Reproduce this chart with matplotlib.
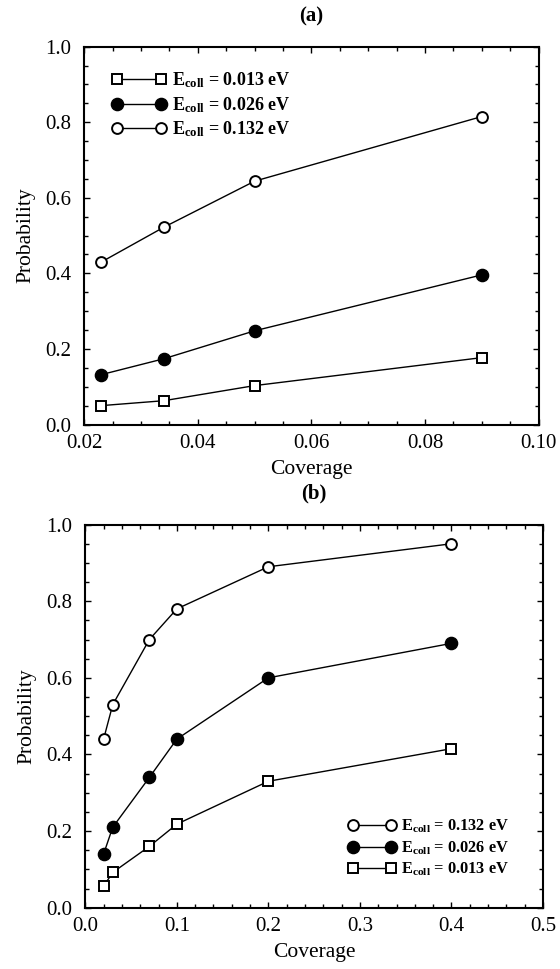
import matplotlib.pyplot as plt
from matplotlib.ticker import MultipleLocator, FormatStrFormatter

plt.rcParams['font.family'] = ['Liberation Serif', 'DejaVu Serif']
plt.rcParams['mathtext.fontset'] = 'custom'
plt.rcParams['mathtext.rm'] = 'Liberation Serif:bold'
plt.rcParams['mathtext.bf'] = 'Liberation Serif:bold'
plt.rcParams['mathtext.it'] = 'Liberation Serif:bold'

# panel (a)
cov_a = [0.023, 0.034, 0.05, 0.09]
p013_a = [0.050, 0.063, 0.103, 0.177]
p026_a = [0.132, 0.174, 0.248, 0.396]
p132_a = [0.430, 0.522, 0.644, 0.815]

# panel (b)
cov_b = [0.02, 0.03, 0.07, 0.1, 0.2, 0.4]
p013_b = [0.056, 0.092, 0.160, 0.218, 0.330, 0.415]
p026_b = [0.140, 0.210, 0.340, 0.440, 0.600, 0.690]
p132_b = [0.440, 0.530, 0.700, 0.780, 0.890, 0.950]

labels = [r'E$_{coll}$ = 0.013 eV', r'E$_{coll}$ = 0.026 eV', r'E$_{coll}$ = 0.132 eV']

fig = plt.figure(figsize=(5.6, 9.69), dpi=100)
ax1 = fig.add_axes([0.1505, 0.5619, 0.8114, 0.390])
ax2 = fig.add_axes([0.1523, 0.0633, 0.8173, 0.3953])

lw = 1.0
sq = dict(marker='s', ms=6.5, mfc='white', mec='black', mew=1.4, color='black', lw=lw)
fc = dict(marker='o', ms=8.8, mfc='black', mec='black', mew=1.0, color='black', lw=lw)
oc = dict(marker='o', ms=7.8, mfc='white', mec='black', mew=1.4, color='black', lw=lw)

l1, = ax1.plot(cov_a, p013_a, **sq)
l2, = ax1.plot(cov_a, p026_a, **fc)
l3, = ax1.plot(cov_a, p132_a, **oc)
ax1.legend([l1, l2, l3], labels, loc='upper left', bbox_to_anchor=(0.059, 0.936),
           frameon=False, numpoints=2, handlelength=3.06, handletextpad=0.3,
           labelspacing=0.24, borderpad=0, borderaxespad=0,
           prop={'weight': 'bold', 'size': 13})

m1, = ax2.plot(cov_b, p132_b, **oc)
m2, = ax2.plot(cov_b, p026_b, **fc)
m3, = ax2.plot(cov_b, p013_b, **sq)
ax2.legend([m1, m2, m3], labels[::-1], loc='upper left', bbox_to_anchor=(0.574, 0.234),
           frameon=False, numpoints=2, handlelength=2.95, handletextpad=0.3,
           labelspacing=0.24, borderpad=0, borderaxespad=0,
           prop={'weight': 'bold', 'size': 11.8})

ax1.set_xlim(0.02, 0.10)
ax1.xaxis.set_major_locator(MultipleLocator(0.02))
ax1.xaxis.set_minor_locator(MultipleLocator(0.005))
ax1.xaxis.set_major_formatter(FormatStrFormatter('%.2f'))
ax2.set_xlim(0.0, 0.5)
ax2.xaxis.set_major_locator(MultipleLocator(0.1))
ax2.xaxis.set_minor_locator(MultipleLocator(0.02))
ax2.xaxis.set_major_formatter(FormatStrFormatter('%.1f'))

for ax in (ax1, ax2):
    ax.set_ylim(0, 1.0)
    ax.yaxis.set_major_locator(MultipleLocator(0.2))
    ax.yaxis.set_minor_locator(MultipleLocator(0.05))
    ax.yaxis.set_major_formatter(FormatStrFormatter('%.1f'))
    ax.tick_params(which='both', direction='in', top=True, right=True, labelsize=15, width=1.0)
    ax.tick_params(which='major', length=4.5)
    ax.tick_params(which='minor', length=3)
    ax.tick_params(axis='x', which='major', pad=7)
    ax.tick_params(axis='y', which='major', pad=9.5)
    for s in ax.spines.values():
        s.set_linewidth(1.5)
    ax.set_xlabel('Coverage', fontsize=15.5, labelpad=5)
    ax.set_ylabel('Probability', fontsize=15.5, labelpad=7)

ax1.set_title('(a)', fontsize=15, fontweight='bold', pad=18)
ax2.set_title('(b)', fontsize=15, fontweight='bold', pad=19)

fig.savefig('out.png', dpi=100)
